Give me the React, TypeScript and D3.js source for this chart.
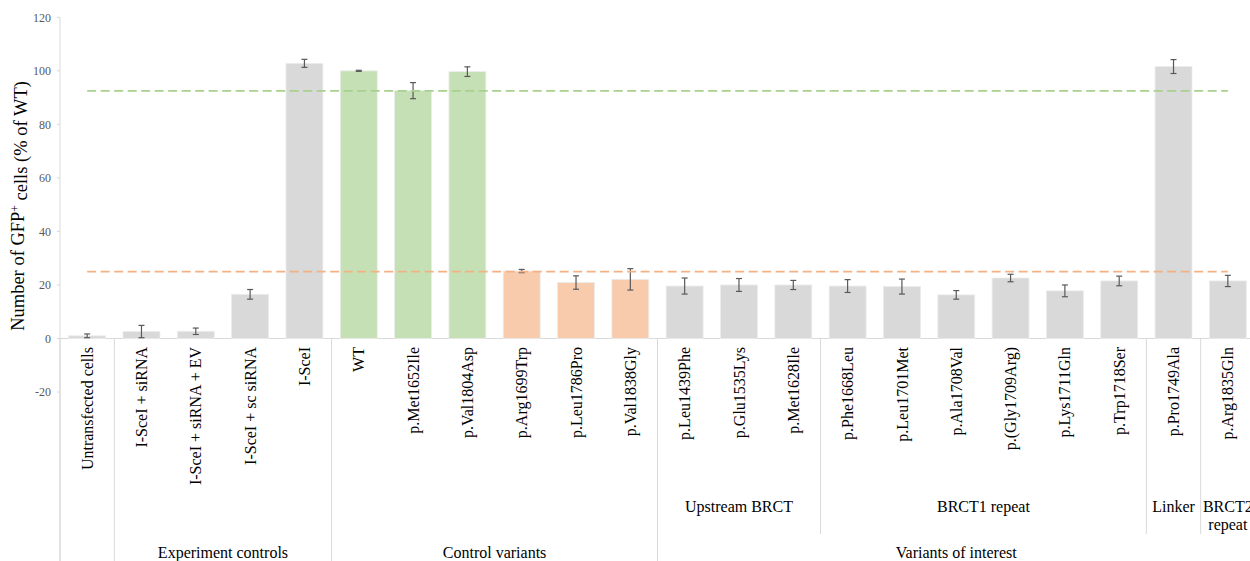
import React from "react";
import * as d3 from "d3";

const categories = [
  "Untransfected cells",
  "I-SceI + siRNA",
  "I-SceI + siRNA + EV",
  "I-SceI + sc siRNA",
  "I-SceI",
  "WT",
  "p.Met1652Ile",
  "p.Val1804Asp",
  "p.Arg1699Trp",
  "p.Leu1786Pro",
  "p.Val1838Gly",
  "p.Leu1439Phe",
  "p.Glu1535Lys",
  "p.Met1628Ile",
  "p.Phe1668Leu",
  "p.Leu1701Met",
  "p.Ala1708Val",
  "p.(Gly1709Arg)",
  "p.Lys1711Gln",
  "p.Trp1718Ser",
  "p.Pro1749Ala",
  "p.Arg1835Gln",
];

const values = [
  1.0, 2.6, 2.7, 16.5, 102.8, 100.0, 92.6, 99.7, 25.2, 20.9, 22.1, 19.6, 20.0,
  20.0, 19.6, 19.4, 16.3, 22.6, 17.8, 21.5, 101.6, 21.5,
];

const errors = [
  0.7, 2.3, 1.2, 1.8, 1.5, 0.2, 3.0, 1.8, 0.6, 2.5, 4.0, 3.0, 2.4, 1.7, 2.4,
  2.8, 1.6, 1.4, 2.2, 1.8, 2.6, 2.1,
];

// bar colour class per category: g = grey, n = neutral control (green), p = pathogenic control (orange)
const kinds = [
  "g", "g", "g", "g", "g", "n", "n", "n", "p", "p", "p", "g", "g", "g", "g",
  "g", "g", "g", "g", "g", "g", "g",
];

const neutralMean = 92.5;
const pathogenicMean = 25.0;

// outer grouping (start index, end index exclusive, label)
const outerGroups: [number, number, string][] = [
  [0, 1, ""],
  [1, 5, "Experiment controls"],
  [5, 11, "Control variants"],
  [11, 22, "Variants of interest"],
];

// domain grouping inside "Variants of interest"
const innerGroups: [number, number, string[]][] = [
  [11, 14, ["Upstream BRCT"]],
  [14, 20, ["BRCT1 repeat"]],
  [20, 21, ["Linker"]],
  [21, 22, ["BRCT2", "repeat"]],
];

const yTicks = [-20, 0, 20, 40, 60, 80, 100, 120];

const W = 1250;
const H = 561;
const left = 60;
const right = 1255;
const zeroY = 338.5;
const topY = 17.3;

const colors: Record<string, string> = {
  g: "#d9d9d9",
  n: "#c5e0b4",
  p: "#f8cbad",
};

const serif = "'Liberation Serif', 'Times New Roman', serif";

export default function App() {
  const x = d3
    .scaleBand<number>()
    .domain(d3.range(categories.length))
    .range([left, right])
    .paddingInner(0.32)
    .paddingOuter(0.16);
  const step = x.step();
  const bound = (i: number) => left + i * step;
  const cx = (i: number) => (x(i) as number) + x.bandwidth() / 2;

  const y = d3.scaleLinear().domain([0, 120]).range([zeroY, topY]);

  const refLine = (v: number) =>
    d3.line<number>()
      .x((i) => cx(i))
      .y(() => y(v))(d3.range(categories.length)) as string;

  return (
    <svg
      width={W}
      height={H}
      style={{ position: "absolute", left: 0, top: 0, background: "#fff" }}
      fontFamily={serif}
    >
      {/* y axis */}
      <line x1={left} x2={left} y1={topY} y2={H} stroke="#d9d9d9" strokeWidth={1} />
      {yTicks.map((t) => (
        <g key={t}>
          <line x1={left - 3} x2={left} y1={y(t)} y2={y(t)} stroke="#d9d9d9" />
          <text
            x={left - 9}
            y={y(t)}
            dy="0.35em"
            textAnchor="end"
            fontSize={12}
            fill="#595959"
          >
            {t}
          </text>
        </g>
      ))}
      <text
        transform={`translate(24, 206) rotate(-90)`}
        textAnchor="middle"
        fontSize={18.5}
        fill="#000"
      >
        Number of GFP
        <tspan dy="-0.45em" fontSize={11.5}>+</tspan>
        <tspan dy="0.45em"> cells (% of WT)</tspan>
      </text>

      {/* category axis at zero */}
      <line x1={left} x2={right} y1={zeroY} y2={zeroY} stroke="#d9d9d9" />

      {/* bars */}
      {values.map((v, i) => (
        <rect
          key={i}
          x={x(i)}
          y={y(Math.max(v, 0))}
          width={x.bandwidth()}
          height={Math.abs(y(v) - y(0))}
          fill={colors[kinds[i]]}
          stroke="#ececec"
          strokeWidth={0.8}
        />
      ))}

      {/* error bars */}
      {values.map((v, i) => {
        const c = cx(i);
        const hi = y(v + errors[i]);
        const lo = y(v - errors[i]);
        return (
          <g key={i} stroke="#595959" strokeWidth={1.2}>
            <line x1={c} x2={c} y1={hi} y2={lo} />
            <line x1={c - 3} x2={c + 3} y1={hi} y2={hi} />
            <line x1={c - 3} x2={c + 3} y1={lo} y2={lo} />
          </g>
        );
      })}

      {/* reference means */}
      <path d={refLine(neutralMean)} stroke="#a9d18e" strokeWidth={1.8} strokeDasharray="9,4.5" fill="none" />
      <path d={refLine(pathogenicMean)} stroke="#f4b183" strokeWidth={1.8} strokeDasharray="9,4.5" fill="none" />

      {/* category labels */}
      {categories.map((c, i) => (
        <text
          key={c}
          transform={`translate(${cx(i)}, 347) rotate(-90)`}
          dy="0.35em"
          textAnchor="end"
          fontSize={16}
          fill="#000"
        >
          {c}
        </text>
      ))}

      {/* inner group separators and labels */}
      {innerGroups.map(([s, e, lines]) => (
        <g key={lines.join(" ")}>
          {s !== 11 && (
            <line x1={bound(s)} x2={bound(s)} y1={zeroY} y2={534} stroke="#d9d9d9" />
          )}
          {lines.map((l, k) => (
            <text
              key={l}
              x={(bound(s) + bound(e)) / 2}
              y={512 + k * 18}
              textAnchor="middle"
              fontSize={16}
              fill="#000"
            >
              {l}
            </text>
          ))}
        </g>
      ))}

      {/* outer group separators and labels */}
      {outerGroups.map(([s, e, label]) => (
        <g key={s}>
          <line x1={bound(s)} x2={bound(s)} y1={zeroY} y2={H} stroke="#d9d9d9" />
          {label && (
            <text
              x={(bound(s) + bound(e)) / 2}
              y={558}
              textAnchor="middle"
              fontSize={16}
              fill="#000"
            >
              {label}
            </text>
          )}
        </g>
      ))}
    </svg>
  );
}
